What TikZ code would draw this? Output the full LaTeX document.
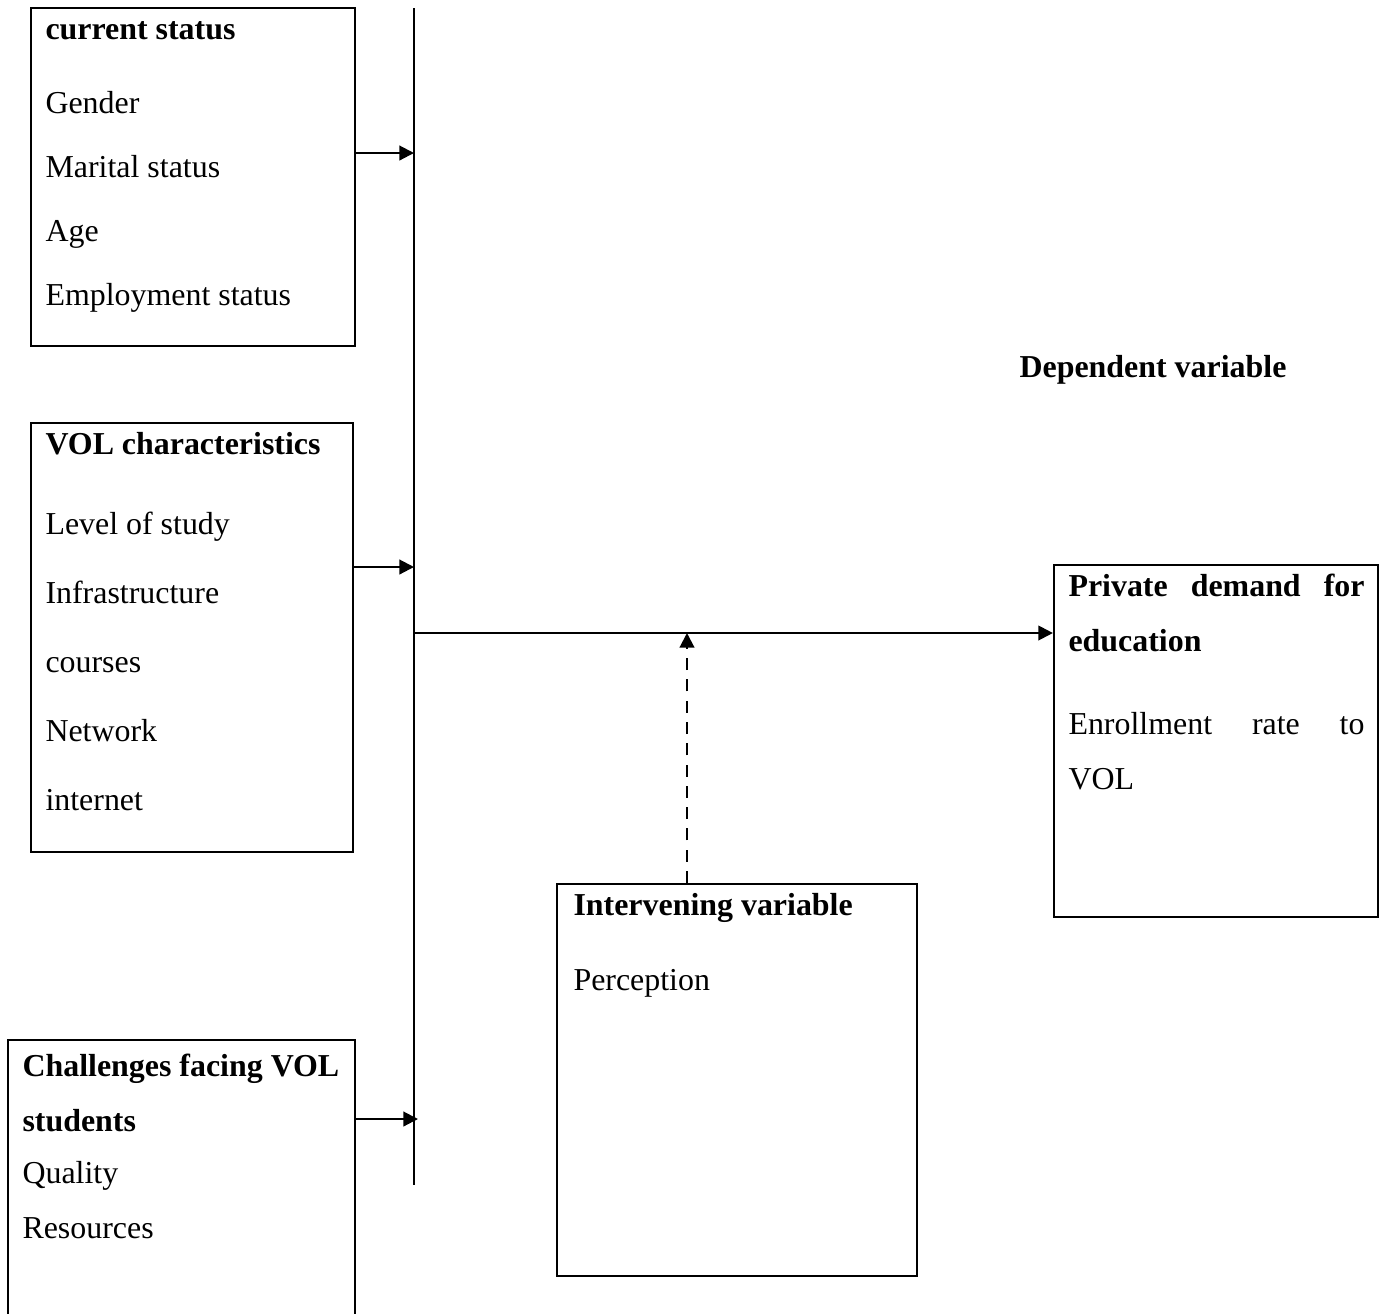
\documentclass[tikz,border=0pt]{standalone}
\usepackage{fontspec}
\setmainfont{Liberation Serif}
\usetikzlibrary{arrows.meta,fit}
\tikzset{
    varBox/.style={
        draw,
        line width=0.8pt,
        inner sep=0pt
    },
    varText/.style={
        anchor=base west,
        align=flush left,
        text width=125pt,
        inner sep=0pt
    },
    flowLine/.style={
        line width=0.8pt
    },
    flowArrow/.style={
        -{Triangle[length=5.5pt,width=5.5pt]},
        line width=0.8pt
    },
    flowDashed/.style={
        -{Triangle[length=5.5pt,width=5.5pt]},
        line width=0.8pt,
        dash pattern=on 4.5pt off 3.5pt
    }
}

\begin{document}
\begin{tikzpicture}[x=0.376pt,y=-0.376pt,font=\fontsize{12}{14}\selectfont]
        \useasboundingbox (0,0) rectangle (1383,1314);
        \clip (0,0) rectangle (1383,1314);

        % independent variables
        \node[varBox,fit={(31,8) (355,346)}] (status) {};
        \node[varBox,fit={(31,423) (353,852)}] (vol) {};
        \node[varBox,fit={(8,1040) (355,1400)}] (challenge) {};

        \node[varText,font=\fontsize{12}{24.1}\selectfont] (statusText) at (45,39) {\textbf{current status}\\[3.8pt]Gender\\Marital status\\Age\\Employment status};
        \node[varText,font=\fontsize{12}{25.9}\selectfont] (volText) at (45,454) {\textbf{VOL characteristics}\\[4.5pt]Level of study\\Infrastructure\\courses\\Network\\internet};
        \node[varText,font=\fontsize{12}{20.7}\selectfont] (challengeText) at (22,1076) {\textbf{Challenges facing VOL}\\\textbf{students}\\[-1.1pt]Quality\\Resources};

        % intervening and dependent variables
        \node[varBox,fit={(557,884) (917,1276)}] (interv) {};
        \node[varBox,fit={(1054,565) (1378,917)}] (demand) {};

        \node[varText,font=\fontsize{12}{28.2}\selectfont] (intervText) at (573,915) {\textbf{Intervening variable}\\Perception};
        \node[varText,text width=111.3pt,font=\fontsize{12}{20.7}\selectfont] (demandText) at (1068,596) {\textbf{Private\hfill demand\hfill for}\\\textbf{education}\\[10.5pt]Enrollment\hfill rate\hfill to\\VOL};

        \node[font=\fontsize{12}{14}\selectfont\bfseries,anchor=base] (depLabel) at (1153,377) {Dependent variable};

        % connectors
        \coordinate (busTop) at (414,8);
        \coordinate (busBottom) at (414,1185);
        \draw[flowLine] (busTop) -- (busBottom);

        \coordinate (inA) at (414,153);
        \coordinate (inB) at (414,567);
        \coordinate (inC) at (418,1119);
        \draw[flowArrow] (status.east |- inA) -- (inA);
        \draw[flowArrow] (vol.east |- inB) -- (inB);
        \draw[flowArrow] (challenge.east |- inC) -- (inC);

        \coordinate (join) at (414,633);
        \draw[flowArrow] (join) -- (join -| demand.west);

        \coordinate (dashEnd) at (687,633);
        \draw[flowDashed] (dashEnd |- interv.north) -- (dashEnd);
    \end{tikzpicture}
\end{document}
